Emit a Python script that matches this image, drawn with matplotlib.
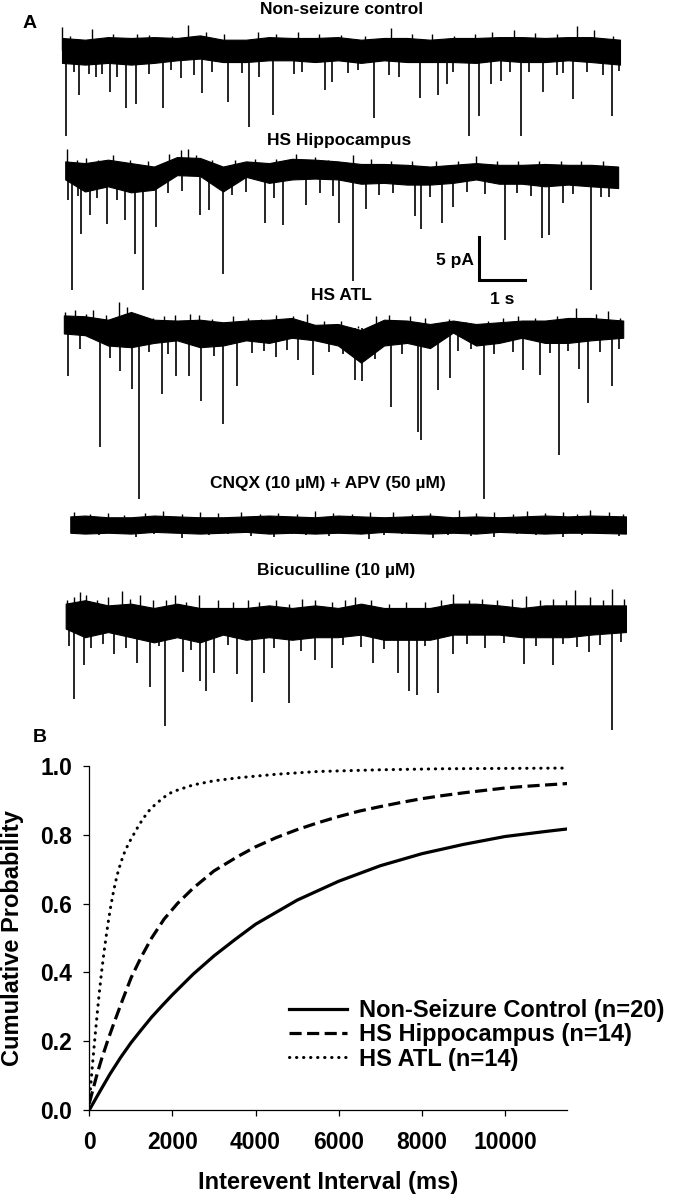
import numpy as np
import matplotlib
matplotlib.use("Agg")
import matplotlib.pyplot as plt

plt.rcParams['font.family'] = ['Liberation Sans', 'DejaVu Sans']
plt.rcParams['font.weight'] = 'bold'

# ---------- Panel A: example traces (time in s, current in pA rel. to baseline) ----------
# dense core of the noise band, sampled every 0.5 s
env_t = [0.0, 0.5, 1.0, 1.5, 2.0, 2.5, 3.0, 3.5, 4.0, 4.5, 5.0, 5.5, 6.0,
         6.5, 7.0, 7.5, 8.0, 8.5, 9.0, 9.5, 10.0, 10.5, 11.0, 11.5, 12.0]

# Non-seizure control
nsc_span = [0.0, 12.13]
nsc_upper = [1.4, 1.2, 1.5, 1.4, 1.5, 1.4, 1.7, 1.2, 1.2, 1.5, 1.4, 1.4, 1.5,
             1.2, 1.4, 1.4, 1.2, 1.4, 1.4, 1.5, 1.5, 1.4, 1.5, 1.5, 1.2]
nsc_lower = [-1.5, -1.7, -1.5, -1.7, -1.5, -1.2, -1.0, -1.4, -1.4, -1.2, -1.2, -1.4, -1.2,
             -1.5, -1.2, -1.4, -1.4, -1.4, -1.5, -1.2, -1.4, -1.4, -1.2, -1.4, -1.7]
nsc_ev_t = [0.09, 0.25, 0.37, 0.59, 0.73, 0.86, 1.05, 1.19, 1.40, 1.60, 1.89, 2.20, 2.36, 2.59,
            2.88, 3.04, 3.25, 3.61, 3.91, 4.06, 4.28, 4.58, 5.04, 5.22, 5.72, 5.87, 6.21, 6.44,
            6.78, 7.10, 7.33, 7.78, 8.18, 8.36, 8.51, 8.84, 9.07, 9.32, 9.54, 9.73, 9.97, 10.15,
            10.46, 10.76, 10.90, 11.10, 11.42, 11.75, 11.96, 12.10]
nsc_ev_amp = [-10.0, -2.5, -5.2, -2.8, -3.1, -2.8, -4.9, -3.1, -6.8, -6.3, -2.8, -6.7, -2.3, -3.3,
              -2.9, -5.0, -2.5, -6.1, -2.7, -9.0, -3.1, -7.6, -2.8, -2.5, -4.6, -3.7, -2.7, -2.3,
              -7.9, -2.9, -3.1, -5.6, -5.2, -3.9, -2.5, -10.0, -7.7, -3.9, -3.6, -2.5, -10.0, -2.5,
              -4.9, -2.9, -2.7, -5.7, -2.5, -2.9, -7.7, -2.4]
nsc_up_t = [0.01, 0.18, 0.65, 1.11, 1.64, 1.89, 2.39, 2.73, 3.14, 3.53, 4.27, 4.66, 5.13, 5.58,
            6.07, 6.59, 7.15, 7.61, 8.04, 8.53, 8.98, 9.35, 9.82, 10.29, 10.76, 11.20, 11.56, 11.98]
nsc_up_amp = [2.7, 1.6, 2.4, 1.9, 1.9, 1.7, 1.6, 2.9, 2.1, 1.9, 2.1, 1.9, 2.1, 1.9,
              1.7, 1.6, 2.6, 1.9, 1.9, 1.6, 1.9, 2.1, 2.3, 2.0, 1.9, 2.8, 2.3, 1.6]

# HS Hippocampus
hip_span = [0.07, 12.09]
hip_upper = [1.2, 1.0, 1.4, 1.0, 0.6, 1.7, 1.6, 0.6, 1.2, 1.0, 1.5, 1.4, 1.2,
             0.9, 0.9, 0.8, 0.6, 0.8, 1.0, 0.8, 0.8, 0.9, 0.8, 0.8, 0.6]
hip_lower = [-0.9, -2.3, -1.7, -2.4, -2.1, -0.4, -0.5, -2.3, -0.6, -1.3, -0.9, -0.8, -0.9,
             -1.4, -1.3, -1.5, -1.5, -1.3, -0.9, -1.4, -1.4, -1.7, -1.5, -1.7, -1.9]
hip_ev_t = [0.13, 0.22, 0.35, 0.42, 0.60, 0.75, 0.98, 1.20, 1.37, 1.59, 1.77, 2.05, 2.30, 2.60,
            2.99, 3.20, 3.51, 3.70, 4.00, 4.41, 4.60, 4.80, 5.30, 5.60, 5.90, 6.02, 6.33, 6.61,
            6.90, 7.20, 7.68, 7.80, 8.00, 8.25, 8.49, 8.80, 9.20, 9.63, 9.90, 10.20, 10.44,
            10.59, 10.90, 11.10, 11.49, 11.72, 11.90]
hip_ev_amp = [-3.3, -13.7, -2.8, -7.2, -5.0, -3.0, -6.1, -3.3, -5.6, -9.6, -13.7, -6.4, -2.5, -2.2,
              -5.0, -4.5, -11.9, -2.7, -2.4, -6.0, -3.0, -6.2, -3.9, -2.5, -2.8, -6.0, -12.7, -4.3,
              -2.7, -2.5, -5.2, -6.7, -2.9, -6.0, -4.1, -2.4, -2.6, -7.9, -2.5, -2.8, -7.7,
              -7.4, -3.6, -2.6, -13.7, -2.9, -2.9]
hip_up_t = [0.11, 0.32, 0.53, 0.79, 1.11, 1.47, 1.86, 2.33, 2.58, 2.73, 2.92, 3.25, 3.77, 4.19,
            4.66, 5.08, 5.50, 5.79, 6.33, 6.72, 7.15, 7.61, 8.13, 8.60, 9.01, 9.45, 9.92, 10.38,
            10.85, 11.28, 11.75]
hip_up_amp = [2.6, 1.4, 1.6, 1.4, 1.9, 1.4, 1.2, 2.1, 2.5, 2.6, 1.9, 1.4, 1.4, 1.5,
              1.5, 2.1, 1.7, 1.4, 2.0, 1.5, 1.3, 1.2, 1.2, 1.3, 1.8, 1.2, 1.2, 1.3,
              1.2, 1.2, 1.3]

# HS ATL
atl_span = [0.04, 12.2]
atl_upper = [1.5, 1.4, 1.0, 1.9, 1.0, 0.9, 1.0, 0.7, 0.9, 1.0, 1.2, 0.4, 0.5,
             -0.2, 1.0, 0.9, 0.5, 0.9, 0.5, 0.7, 0.9, 0.9, 1.2, 1.2, 0.9]
atl_lower = [-0.6, -0.8, -2.0, -2.2, -1.7, -1.4, -2.2, -2.0, -1.4, -1.7, -1.1, -1.4, -2.0,
             -4.0, -2.0, -1.7, -2.3, -0.5, -2.0, -1.7, -1.1, -1.7, -1.7, -1.4, -1.1]
atl_ev_t = [0.13, 0.40, 0.83, 1.05, 1.26, 1.53, 1.68, 1.90, 2.18, 2.30, 2.47, 2.75, 3.02, 3.30,
            3.49, 3.80, 4.14, 4.40, 4.66, 4.90, 5.13, 5.46, 5.80, 6.10, 6.37, 6.52, 6.80, 7.16,
            7.40, 7.73, 7.80, 8.17, 8.44, 8.60, 8.90, 9.18, 9.40, 9.80, 10.03, 10.40, 10.60,
            10.80, 11.00, 11.23, 11.44, 11.70, 11.96, 12.10]
atl_ev_amp = [-5.5, -2.4, -13.8, -3.5, -5.0, -7.0, -19.8, -2.8, -7.6, -3.0, -5.6, -5.6, -8.4, -3.2,
              -11.1, -6.7, -2.9, -2.6, -3.3, -2.5, -3.7, -5.4, -2.8, -3.0, -6.0, -6.1, -3.6, -9.2,
              -3.0, -12.0, -13.0, -7.2, -5.8, -2.6, -2.4, -19.8, -3.0, -2.7, -4.8, -5.4, -2.9,
              -14.7, -2.6, -4.7, -8.7, -2.8, -6.7, -2.4]
atl_up_t = [0.06, 0.29, 0.53, 0.67, 0.95, 1.23, 1.42, 1.75, 1.98, 2.22, 2.45, 2.78, 2.97, 3.25,
            3.72, 4.05, 4.33, 4.66, 5.03, 5.33, 5.69, 6.07, 6.44, 6.82, 7.10, 7.57, 7.90, 8.41,
            8.79, 9.26, 9.59, 9.92, 10.29, 10.76, 11.18, 11.61, 11.87, 12.12]
atl_up_amp = [1.9, 2.1, 1.7, 2.1, 1.6, 3.1, 2.5, 0.9, 1.2, 1.4, 1.6, 1.7, 1.6, 1.1,
              1.4, 1.2, 1.1, 1.6, 1.4, 1.7, 0.9, 0.9, 0.3, 1.4, 1.6, 1.4, 1.2, 1.1,
              0.7, 0.9, 1.2, 1.4, 1.2, 1.4, 2.4, 1.7, 2.0, 1.2]

# CNQX + APV
cnqx_span = [0.18, 12.26]
cnqx_upper = [1.0, 1.1, 0.9, 0.9, 1.1, 1.0, 0.9, 0.9, 1.0, 1.1, 1.0, 0.9, 1.1,
              1.0, 0.9, 1.0, 1.1, 0.9, 1.0, 0.9, 1.0, 1.1, 1.0, 1.1, 1.0]
cnqx_lower = [-0.9, -1.0, -0.9, -1.0, -0.8, -0.9, -1.0, -0.9, -0.8, -1.0, -0.9, -1.0, -0.9,
              -1.0, -0.8, -0.9, -1.0, -0.9, -1.0, -0.8, -0.9, -1.0, -0.9, -0.9, -1.0]
cnqx_ev_t = [0.45, 0.8, 1.2, 1.6, 2.0, 2.6, 3.2, 3.6, 4.1, 4.6, 5.0, 5.3, 5.8, 6.2, 6.68, 7.0,
             7.4, 8.07, 8.4, 8.9, 9.4, 9.9, 10.3, 10.9, 11.3, 11.7, 12.1]
cnqx_ev_amp = [-1.1, -1.2, -1.0, -1.4, -1.1, -1.55, -1.2, -1.1, -1.3, -1.4, -1.1, -1.2, -1.3,
               -1.1, -1.65, -1.2, -1.1, -1.5, -1.2, -1.3, -1.4, -1.1, -1.2, -1.45, -1.2, -1.1, -1.3]
cnqx_up_t = [0.25, 0.6, 1.0, 1.35, 1.8, 2.2, 2.6, 3.0, 3.4, 3.9, 4.3, 4.7, 5.1, 5.5, 5.9, 6.3,
             6.7, 7.2, 7.6, 8.0, 8.62, 9.0, 9.4, 9.8, 10.1, 10.5, 10.9, 11.2, 11.47, 11.9, 12.2]
cnqx_up_amp = [1.5, 1.3, 1.4, 1.2, 1.4, 1.6, 1.3, 1.5, 1.4, 1.5, 1.3, 1.4, 1.3, 1.6, 1.4, 1.3,
               1.5, 1.5, 1.3, 1.4, 1.8, 1.4, 1.5, 1.3, 1.6, 1.4, 1.5, 1.3, 1.7, 1.5, 1.3]

# Bicuculline
bic_span = [0.08, 12.26]
bic_upper = [1.9, 2.3, 1.7, 1.9, 1.4, 1.9, 1.4, 1.4, 1.4, 1.7, 1.4, 1.7, 1.4,
             1.9, 1.4, 1.4, 1.4, 1.9, 1.9, 1.7, 1.4, 1.7, 1.7, 1.7, 1.7]
bic_lower = [-1.0, -2.0, -1.4, -2.0, -2.6, -2.0, -2.6, -1.7, -2.3, -2.0, -2.3, -2.0, -2.0,
             -1.7, -2.3, -2.3, -2.3, -1.7, -1.7, -1.7, -2.0, -2.0, -2.0, -1.7, -1.4]
bic_ev_t = [0.15, 0.27, 0.48, 0.62, 0.90, 1.12, 1.40, 1.64, 1.92, 2.10, 2.24, 2.64, 2.80, 2.99,
            3.14, 3.30, 3.60, 3.81, 4.12, 4.40, 4.60, 4.94, 5.20, 5.50, 5.88, 6.10, 6.50, 6.77,
            7.00, 7.30, 7.54, 7.72, 7.90, 8.18, 8.51, 8.80, 9.20, 9.60, 10.04, 10.30, 10.67,
            10.90, 11.20, 11.45, 11.70, 11.96, 12.15]
bic_ev_amp = [-3.0, -9.2, -5.2, -3.3, -2.8, -4.0, -3.3, -5.0, -7.8, -3.0, -12.3, -6.1, -3.5, -7.1,
              -8.3, -6.2, -2.9, -6.3, -9.5, -6.2, -3.2, -9.6, -3.6, -4.7, -5.6, -2.9, -3.1, -5.0,
              -3.4, -6.2, -8.3, -8.7, -3.0, -8.5, -3.9, -2.8, -3.3, -2.7, -5.1, -3.0, -5.2,
              -2.8, -3.1, -3.7, -2.9, -12.8, -2.6]
bic_up_t = [0.11, 0.27, 0.39, 0.53, 0.76, 1.00, 1.30, 1.47, 1.70, 1.98, 2.27, 2.45, 2.69, 2.97,
            3.39, 3.72, 4.05, 4.28, 4.66, 4.94, 5.22, 5.50, 5.88, 6.16, 6.37, 6.72, 7.10, 7.48,
            7.90, 8.23, 8.51, 8.84, 9.12, 9.45, 9.78, 10.08, 10.39, 10.67, 10.95, 11.16, 11.47,
            11.75, 11.96, 12.22]
bic_up_amp = [2.3, 2.7, 3.3, 2.9, 2.3, 2.7, 3.4, 2.5, 2.9, 2.3, 2.3, 2.9, 2.1, 2.9,
              2.3, 2.1, 2.3, 2.1, 2.3, 1.9, 2.5, 2.3, 2.1, 2.3, 2.7, 2.3, 1.9, 2.1,
              2.1, 2.3, 3.0, 2.3, 2.5, 2.3, 2.5, 2.8, 2.3, 2.5, 2.3, 3.5, 2.7,
              2.3, 3.6, 2.5]

trace_titles = ["Non-seizure control", "HS Hippocampus", "HS ATL",
                "CNQX (10 \u00b5M) + APV (50 \u00b5M)", "Bicuculline (10 \u00b5M)"]
scale_s = 1.0
scale_pA = 5.0

# ---------- Panel B: cumulative probability ----------
ctrl_x = [0, 250, 500, 750, 1000, 1250, 1500, 1750, 2000, 2500, 3000, 3500, 4000, 5000, 6000,
          7000, 8000, 9000, 10000, 11000, 11500]
ctrl_y = [0.0, 0.053, 0.105, 0.152, 0.195, 0.233, 0.27, 0.303, 0.335, 0.395, 0.448, 0.495,
          0.54, 0.61, 0.665, 0.71, 0.745, 0.772, 0.795, 0.81, 0.817]
hipp_x = [0, 100, 200, 300, 452, 600, 800, 1008, 1250, 1500, 1800, 2119, 2500, 3000, 3587,
          4000, 4500, 5000, 5500, 6000, 6500, 7000, 7500, 8000, 8500, 9000, 9500, 10000,
          10500, 11000, 11500]
hipp_y = [0.02, 0.065, 0.11, 0.15, 0.205, 0.255, 0.32, 0.385, 0.445, 0.50, 0.555, 0.60, 0.645,
          0.695, 0.738, 0.765, 0.792, 0.815, 0.835, 0.853, 0.869, 0.882, 0.894, 0.905, 0.914,
          0.922, 0.929, 0.936, 0.941, 0.945, 0.949]
atlc_x = [0, 40, 90, 135, 190, 240, 294, 350, 400, 460, 520, 590, 670, 760, 860, 960, 1048,
          1180, 1300, 1430, 1560, 1780, 2000, 2500, 3000, 3600, 4500, 5500, 7000, 8500, 10000,
          11500]
atlc_y = [0.02, 0.08, 0.15, 0.21, 0.28, 0.34, 0.40, 0.455, 0.50, 0.55, 0.595, 0.64, 0.683,
          0.72, 0.753, 0.778, 0.797, 0.825, 0.848, 0.869, 0.885, 0.908, 0.925, 0.945, 0.957,
          0.966, 0.976, 0.984, 0.989, 0.992, 0.993, 0.994]
labels = ["Non-Seizure Control (n=20)", "HS Hippocampus (n=14)", "HS ATL (n=14)"]

W, H = 675, 1200
fig = plt.figure(figsize=(6.75, 12), dpi=100)

# panel A axes: 46 px per second, 8.6 px per pA, trace origin at x=62 px
PX_S, PX_PA, X0 = 46.0, 8.6, 62.0
A_H = 735
axA = fig.add_axes([0, 1 - A_H / H, 1, A_H / H])
axA.set_xlim(-X0 / PX_S, (W - X0) / PX_S)
axA.set_ylim(-A_H / PX_PA, 0)
axA.axis('off')

traces = [
    (nsc_span, nsc_upper, nsc_lower, nsc_ev_t, nsc_ev_amp, nsc_up_t, nsc_up_amp, 50),
    (hip_span, hip_upper, hip_lower, hip_ev_t, hip_ev_amp, hip_up_t, hip_up_amp, 171.7),
    (atl_span, atl_upper, atl_lower, atl_ev_t, atl_ev_amp, atl_up_t, atl_up_amp, 328.3),
    (cnqx_span, cnqx_upper, cnqx_lower, cnqx_ev_t, cnqx_ev_amp, cnqx_up_t, cnqx_up_amp, 525),
    (bic_span, bic_upper, bic_lower, bic_ev_t, bic_ev_amp, bic_up_t, bic_up_amp, 620),
]
for span, up, lo, ev_t, ev_a, u_t, u_a, base_px in traces:
    off = -base_px / PX_PA
    t = np.array(env_t, dtype=float)
    t[0] = span[0]
    t[-1] = span[1]
    axA.fill_between(t, off + np.array(lo), off + np.array(up), color='black',
                     edgecolor='black', lw=0.8)
    axA.vlines(ev_t, off, off + np.array(ev_a), color='black', lw=1.2)
    axA.vlines(u_t, off, off + np.array(u_a), color='black', lw=1.0)

title_pos = [(342, 10), (339, 141), (341, 296), (328, 483), (336, 571)]
for txt, (px, py) in zip(trace_titles, title_pos):
    fig.text(px / W, 1 - py / H, txt, ha='center', va='center', fontsize=12.5, fontweight='bold')

# scale bar
bt, by = (479 - X0) / PX_S, -280 / PX_PA
axA.plot([bt, bt, bt + scale_s], [by + scale_pA, by, by], color='black', lw=2.2,
         solid_joinstyle='miter')
axA.text((474 - X0) / PX_S, -261 / PX_PA, "5 pA", ha='right', va='center',
         fontsize=12.5, fontweight='bold')
axA.text(bt + scale_s / 2, -300 / PX_PA, "1 s", ha='center', va='center',
         fontsize=12.5, fontweight='bold')

fig.text(30 / W, 1 - 24 / H, "A", ha='center', va='center', fontsize=14, fontweight='bold')
fig.text(40 / W, 1 - 738 / H, "B", ha='center', va='center', fontsize=14, fontweight='bold')

# panel B
axB = fig.add_axes([89.3 / W, 1 - 1110 / H, 478 / W, 344 / H])
axB.plot(ctrl_x, ctrl_y, color='black', lw=2.3, label=labels[0])
axB.plot(hipp_x, hipp_y, color='black', lw=2.3, ls=(0, (3.8, 1.7)), label=labels[1])
axB.plot(atlc_x, atlc_y, color='black', lw=2.2, ls=(0, (0.1, 2.2)),
         dash_capstyle='round', label=labels[2])
axB.set_xlim(0, 11500)
axB.set_ylim(0, 1.0)
axB.set_xticks([0, 2000, 4000, 6000, 8000, 10000])
axB.set_yticks([0.0, 0.2, 0.4, 0.6, 0.8, 1.0])
axB.set_yticklabels(["0.0", "0.2", "0.4", "0.6", "0.8", "1.0"])
for s in ['top', 'right']:
    axB.spines[s].set_visible(False)
for s in ['left', 'bottom']:
    axB.spines[s].set_linewidth(0.9)
axB.tick_params(axis='y', direction='out', length=4, width=0.9, pad=8.5, labelsize=16.5)
axB.tick_params(axis='x', direction='out', length=4, width=0.9, pad=11, labelsize=16.5)
for lab in axB.get_xticklabels() + axB.get_yticklabels():
    lab.set_fontweight('bold')
axB.set_xlabel("Interevent Interval (ms)", fontsize=17, fontweight='bold')
axB.set_ylabel("Cumulative Probability", fontsize=17, fontweight='bold')
axB.xaxis.set_label_coords(0.5, (1110 - 1183) / 344)
axB.yaxis.set_label_coords((13 - 89.3) / 478, 0.5)
axB.xaxis.label.set_va('center')
axB.yaxis.label.set_va('center')

leg = axB.legend(loc='center left', bbox_to_anchor=(289 / W, 1 - 1035 / H),
                 bbox_transform=fig.transFigure, frameon=False, borderpad=0,
                 borderaxespad=0, handlelength=2.45, handletextpad=0.5,
                 labelspacing=0.05, prop={'size': 17, 'weight': 'bold'})

fig.savefig("out.png", dpi=100)
